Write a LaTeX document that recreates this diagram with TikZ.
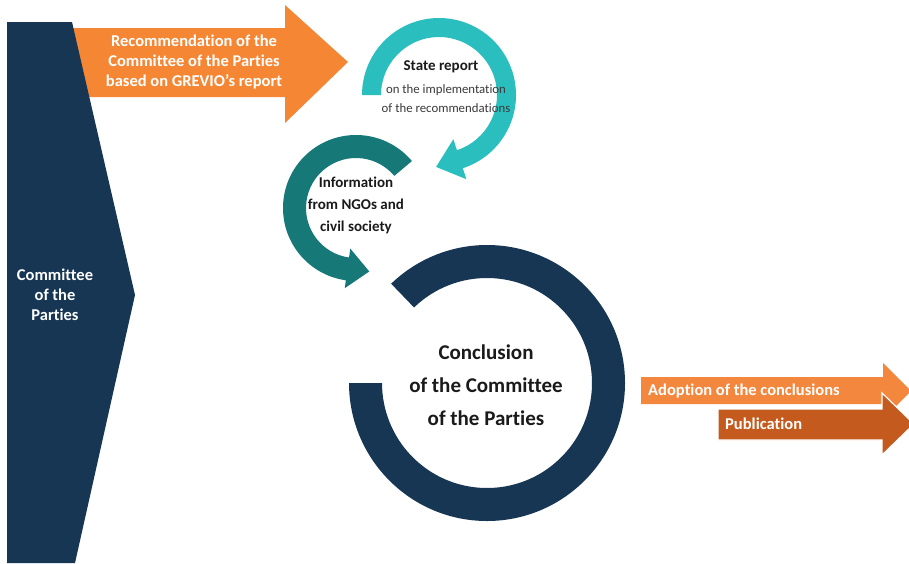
\documentclass[tikz,border=0pt]{standalone}
\usepackage{fontspec}
\setmainfont{Carlito}[Ligatures={NoCommon}]
\usetikzlibrary{calc}
\definecolor{navy}{HTML}{173654}
\definecolor{orangeA}{HTML}{F58634}
\definecolor{orangeB}{HTML}{F4873E}
\definecolor{orangeC}{HTML}{C55A1E}
\definecolor{tealL}{HTML}{2ABEBE}
\definecolor{tealD}{HTML}{177878}
\definecolor{txtdark}{HTML}{1A1A1A}
\definecolor{txtgray}{HTML}{3A3A3A}
\tikzset{
  whitetxt/.style={text=white,font=\bfseries\fontsize{16.5}{20}\selectfont,align=center,inner sep=0},
  darktxt/.style={text=txtdark,font=\bfseries\fontsize{15}{22}\selectfont,align=center,inner sep=0},
  smalltxt/.style={text=txtgray,font=\fontsize{12.8}{19}\selectfont,align=center,inner sep=0},
  bigtxt/.style={text=txtdark,font=\bfseries\fontsize{21}{33}\selectfont,align=center,inner sep=0},
}
\begin{document}
\begin{tikzpicture}[x=1pt,y=-1pt]
\useasboundingbox (0,0) rectangle (909,563);
\fill[white] (0,0) rectangle (909,563);
% top orange arrow
\fill[orangeA] (72,28) -- (285,28) -- (285,5) -- (348,62) -- (285,123) -- (285,97) -- (72,97) -- cycle;
% left pentagon
\fill[navy] (7,22) -- (72,22) -- (135,295) -- (75,563) -- (7,563) -- cycle;
\node[whitetxt] (rec) at (194,62) {Recommendation of the\\Committee of the Parties\\based on GREVIO’s report};
\node[whitetxt] (cop) at (55,295) {Committee\\of the\\Parties};
% light teal arc
\coordinate (c1) at (439,95);
\fill[tealL] ($(c1)+(180:77)$) arc[start angle=180,end angle=432,radius=77]
  -- ($(c1)+(72:88.5)$) -- ($(c1)+(72:67.5)+(162:25)$) -- ($(c1)+(72:46.5)$)
  -- ($(c1)+(72:58)$) arc[start angle=432,end angle=180,radius=58] -- cycle;
\node[darktxt] (sr) at (441,67) {State report};
\node[smalltxt] (sr2) at (446,99) {on the implementation\\of the recommendations};
% dark teal arc
\coordinate (c2) at (356,208);
\fill[tealD] ($(c2)+(-40:73)$) arc[start angle=-40,end angle=-262,radius=73]
  -- ($(c2)+(-262:81)$) -- ($(c2)+(-262:61)+(-352:22)$) -- ($(c2)+(-262:41)$)
  -- ($(c2)+(-262:50)$) arc[start angle=-262,end angle=-40,radius=50] -- cycle;
\node[darktxt] (info) at (356,205) {Information\\from NGOs and\\civil society};
% big navy ring
\coordinate (c3) at (487,383);
\fill[navy] ($(c3)+(180:138)$) arc[start angle=180,end angle=-134,radius=138]
  -- ($(c3)+(-134:105)$) arc[start angle=-134,end angle=180,radius=105] -- cycle;
\node[bigtxt] (conc) at (486,385) {Conclusion\\of the Committee\\of the Parties};
% right arrows
\fill[orangeB] (641,377) -- (883,377) -- (883,363) -- (911,391) -- (883,419) -- (883,404) -- (641,404) -- cycle;
\fill[orangeC,draw=white,line width=1.2pt] (718,409) -- (882,409) -- (882,393) -- (914,424) -- (882,455) -- (882,440) -- (718,440) -- cycle;
\node[whitetxt,anchor=west] (adopt) at (648,391) {Adoption of the conclusions};
\node[whitetxt,anchor=west] (pub) at (725,424) {Publication};
\end{tikzpicture}
\end{document}
